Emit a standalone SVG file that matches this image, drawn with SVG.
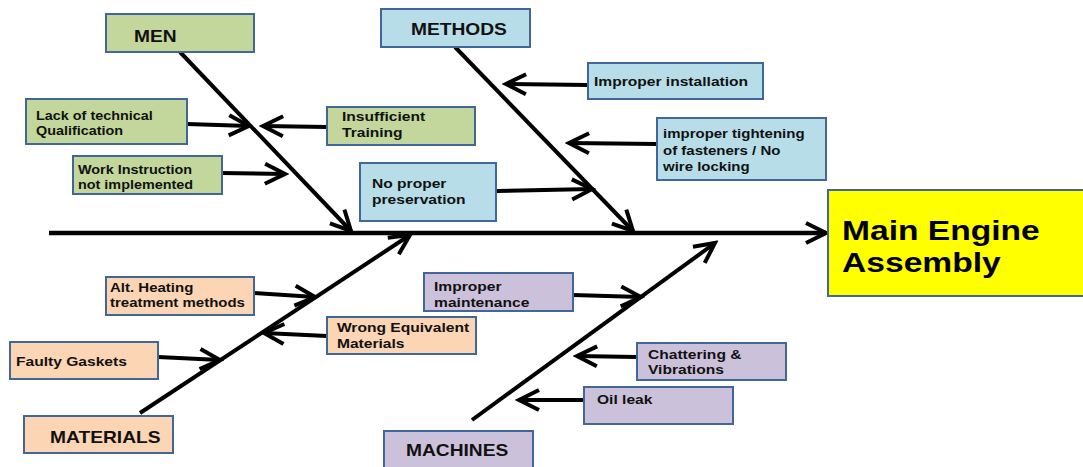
<svg xmlns="http://www.w3.org/2000/svg" width="1083" height="467" viewBox="0 0 1083 467">
<style>
.box{stroke:#41679a;stroke-width:2}
.g{fill:#c3d69b}.b{fill:#b7dde8}.p{fill:#fcd5b5}.v{fill:#ccc1da}.y{fill:#ffff00}
text{font-family:"Liberation Sans",Arial,sans-serif;font-weight:bold;fill:#111}
.s12{font-size:12px}.s125{font-size:12.5px}.s13{font-size:13px}.s16{font-size:16px}.s28{font-size:28px;fill:#000}
.bone{stroke:#000;stroke-width:4;fill:none;marker-end:url(#chev)}
.sp{stroke:#000;stroke-width:4.5;fill:none;marker-end:url(#chev)}
.ar{stroke:#000;stroke-width:4;fill:none;marker-end:url(#chev)}
</style>
<defs>
<marker id="chev" markerUnits="userSpaceOnUse" viewBox="-26 -14 30 28" markerWidth="30" markerHeight="28" refX="0" refY="0" orient="auto">
<path d="M-20,-10 L0,0 L-20,10" fill="none" stroke="#000" stroke-width="4" stroke-linejoin="miter"/>
</marker>
</defs>
<rect width="1083" height="467" fill="#fff"/>
<g id="connectors">
<line class="sp" x1="49" y1="233" x2="826" y2="233"/>
<line class="bone" x1="180" y1="52" x2="351" y2="231"/>
<line class="bone" x1="455" y1="47" x2="633" y2="231"/>
<line class="bone" x1="140" y1="413" x2="410" y2="235"/>
<line class="bone" x1="472" y1="420" x2="715" y2="243"/>
<line class="ar" x1="187" y1="124" x2="249" y2="126"/>
<line class="ar" x1="327" y1="127" x2="263" y2="126"/>
<line class="ar" x1="222" y1="173" x2="285" y2="174"/>
<line class="ar" x1="588" y1="85" x2="506" y2="84"/>
<line class="ar" x1="657" y1="144" x2="569" y2="143"/>
<line class="ar" x1="496" y1="191" x2="592" y2="189"/>
<line class="ar" x1="254" y1="293" x2="315" y2="297"/>
<line class="ar" x1="327" y1="336" x2="264" y2="333"/>
<line class="ar" x1="158" y1="357" x2="220" y2="360"/>
<line class="ar" x1="573" y1="295" x2="641" y2="297"/>
<line class="ar" x1="637" y1="357" x2="577" y2="356"/>
<line class="ar" x1="584" y1="400" x2="519" y2="400"/>
</g>
<g id="men"><rect class="box g" x="106" y="14" width="148" height="38"/><text class="s16" transform="scale(1.2 1)" x="111.7" y="42">MEN</text></g>
<g id="methods"><rect class="box b" x="381" y="9" width="149" height="38"/><text class="s16" transform="scale(1.2 1)" x="342.5" y="35">METHODS</text></g>
<g id="materials"><rect class="box p" x="24" y="416" width="149" height="37"/><text class="s16" transform="scale(1.2 1)" x="41.7" y="443">MATERIALS</text></g>
<g id="machines"><rect class="box v" x="384" y="431" width="149" height="42"/><text class="s16" transform="scale(1.2 1)" x="338.3" y="456">MACHINES</text></g>
<g id="main"><rect class="box y" x="828" y="190" width="262" height="106"/><text class="s28" transform="scale(1.2 1)"><tspan x="701.7" y="240">Main Engine</tspan><tspan x="701.7" y="272">Assembly</tspan></text></g>
<g id="lack"><rect class="box g" x="26" y="99" width="161" height="45"/><text class="s12" transform="scale(1.2 1)"><tspan x="30" y="120">Lack of technical</tspan><tspan x="30" y="135">Qualification</tspan></text></g>
<g id="training"><rect class="box g" x="327" y="107" width="148" height="38"/><text class="s13" transform="scale(1.2 1)"><tspan x="285" y="121">Insufficient</tspan><tspan x="285" y="137">Training</tspan></text></g>
<g id="workinstr"><rect class="box g" x="73" y="156" width="149" height="38"/><text class="s12" transform="scale(1.2 1)"><tspan x="65" y="174">Work Instruction</tspan><tspan x="65" y="189">not implemented</tspan></text></g>
<g id="install"><rect class="box b" x="588" y="63" width="175" height="36"/><text class="s13" transform="scale(1.2 1)" x="495" y="86">Improper installation</text></g>
<g id="tighten"><rect class="box b" x="657" y="118" width="169" height="62"/><text class="s125" transform="scale(1.2 1)"><tspan x="552.5" y="138">improper tightening</tspan><tspan x="552.5" y="155">of fasteners / No</tspan><tspan x="552.5" y="171">wire locking</tspan></text></g>
<g id="preserve"><rect class="box b" x="360" y="163" width="136" height="58"/><text class="s13" transform="scale(1.2 1)"><tspan x="310" y="188">No proper</tspan><tspan x="310" y="204">preservation</tspan></text></g>
<g id="heating"><rect class="box p" x="106" y="277" width="148" height="38"/><text class="s125" transform="scale(1.2 1)"><tspan x="91.7" y="292">Alt. Heating</tspan><tspan x="91.7" y="307">treatment methods</tspan></text></g>
<g id="wrongequiv"><rect class="box p" x="327" y="317" width="149" height="37"/><text class="s13" transform="scale(1.2 1)"><tspan x="280.8" y="332">Wrong Equivalent</tspan><tspan x="280.8" y="348">Materials</tspan></text></g>
<g id="gaskets"><rect class="box p" x="10" y="342" width="148" height="37"/><text class="s13" transform="scale(1.2 1)" x="13.3" y="366">Faulty Gaskets</text></g>
<g id="maint"><rect class="box v" x="424" y="273" width="149" height="38"/><text class="s13" transform="scale(1.2 1)"><tspan x="361.7" y="291">Improper</tspan><tspan x="361.7" y="307">maintenance</tspan></text></g>
<g id="chatter"><rect class="box v" x="637" y="343" width="149" height="37"/><text class="s13" transform="scale(1.2 1)"><tspan x="540" y="359">Chattering &amp;</tspan><tspan x="540" y="374">Vibrations</tspan></text></g>
<g id="oil"><rect class="box v" x="584" y="387" width="149" height="37"/><text class="s13" transform="scale(1.2 1)" x="497.5" y="404">Oil leak</text></g>
</svg>
